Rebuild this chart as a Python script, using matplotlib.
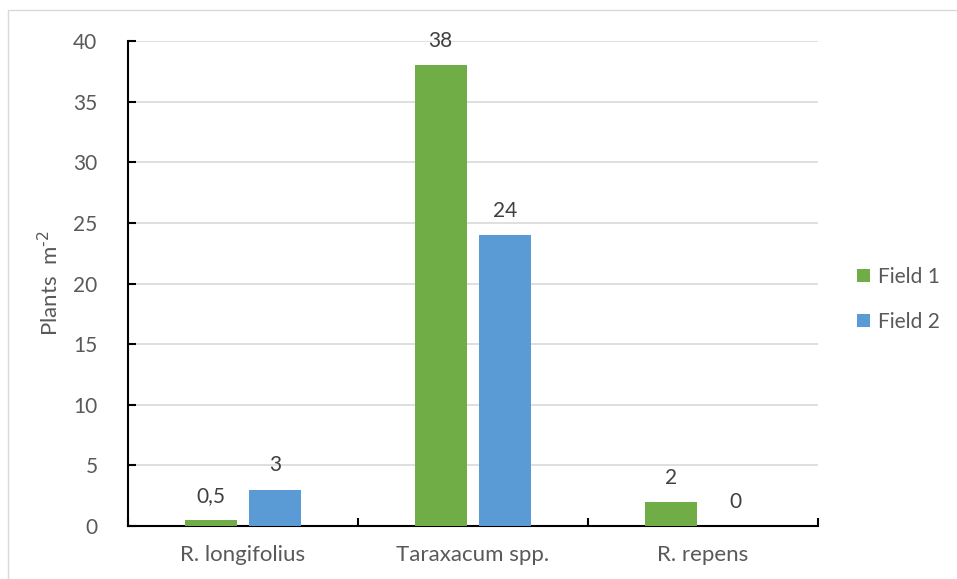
import numpy as np
import matplotlib.pyplot as plt
from matplotlib.patches import Rectangle

categories = ['R. longifolius', 'Taraxacum spp.', 'R. repens']
field1 = [0.5, 38, 2]
field2 = [3, 24, 0]
field1_labels = ['0,5', '38', '2']
field2_labels = ['3', '24', '0']
yticks = [0, 5, 10, 15, 20, 25, 30, 35, 40]

plt.rcParams['font.family'] = ['Lato', 'DejaVu Sans']
txt = '#595959'

fig = plt.figure(figsize=(9.57, 5.79), dpi=100)
fig.patches.append(Rectangle((8 / 957, -0.1), 1.2, 1.1 - 10 / 579, transform=fig.transFigure,
                             fill=False, edgecolor='#d9d9d9', linewidth=1))
ax = fig.add_axes([0.1338, 0.0915, 0.7210, 0.8375])

x = np.arange(len(categories))
w = 0.226
off = 0.141
b1 = ax.bar(x - off, field1, w, color='#70ad47', label='Field 1', zorder=3)
b2 = ax.bar(x + off, field2, w, color='#5b9bd5', label='Field 2', zorder=3)

for rect, lab in zip(b1, field1_labels):
    ax.text(rect.get_x() + rect.get_width() / 2, rect.get_height() + 2.0, lab,
            ha='center', va='center', fontsize=15, color='#404040')
for rect, lab in zip(b2, field2_labels):
    ax.text(rect.get_x() + rect.get_width() / 2, rect.get_height() + 2.0, lab,
            ha='center', va='center', fontsize=15, color='#404040')

ax.set_xlim(-0.5, 2.5)
ax.set_ylim(0, 40)
ax.set_yticks(yticks)
ax.set_yticklabels([str(v) for v in yticks], fontsize=15, color=txt)
ax.yaxis.grid(True, color='#d9d9d9', linewidth=1.2, zorder=0)
ax.set_axisbelow(True)

ax.set_xticks(x)
ax.set_xticklabels(categories, fontsize=16, color=txt)
ax.tick_params(axis='x', length=0, pad=14)
ax.set_xticks([-0.5, 0.5, 1.5, 2.5], minor=True)
ax.tick_params(axis='x', which='minor', length=6, width=1.5, color='black', direction='in')
ax.tick_params(axis='y', length=6, width=1.5, color='black', direction='in', pad=22)

for s in ['top', 'right']:
    ax.spines[s].set_visible(False)
ax.spines['left'].set_linewidth(1.5)
ax.spines['bottom'].set_linewidth(1.5)

ax.set_ylabel('Plants  m$^{\u2010 2}$', fontsize=16, color=txt, labelpad=8)

ax.legend(loc='center left', bbox_to_anchor=(1.03, 0.468), frameon=False, fontsize=15,
          labelcolor=txt, handlelength=0.6, handleheight=0.6, handletextpad=0.4, labelspacing=1.2)

fig.savefig('out.png', dpi=100)
